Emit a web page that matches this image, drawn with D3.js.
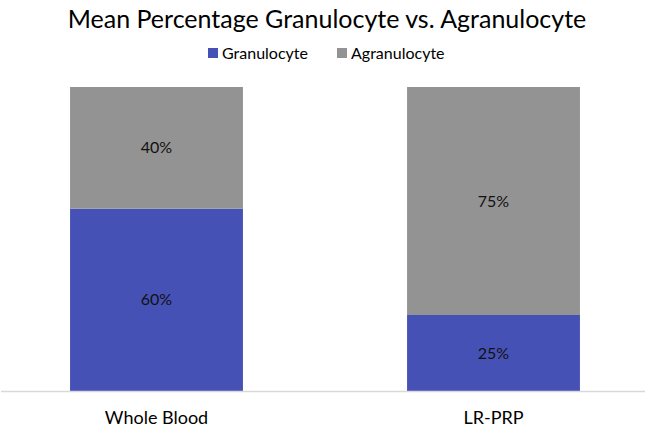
<!DOCTYPE html>
<html><head><meta charset="utf-8">
<script src="https://cdn.jsdelivr.net/npm/d3@7"></script>
<style>body{margin:0;background:#fff}svg{display:block}text{font-family:Lato,"Open Sans",sans-serif}</style>
</head><body>
<svg id="c" width="647" height="428"></svg>
<script>
const categories = ["Whole Blood", "LR-PRP"];
const seriesNames = ["Granulocyte", "Agranulocyte"];
const granulocyte = [60, 25];
const agranulocyte = [40, 75];
const colors = ["#4651B5", "#939393"];

const svg = d3.select("#c");
const x = d3.scaleBand().domain(categories).range([-12, 662]).paddingInner(0.487).paddingOuter(0.2435);
const y = d3.scaleLinear().domain([0, 100]).range([391, 87]);

const rows = categories.map((c, i) => ({cat: c, Granulocyte: granulocyte[i], Agranulocyte: agranulocyte[i]}));
const stacked = d3.stack().keys(seriesNames)(rows);

const g = svg.append("g");
stacked.forEach((s, si) => {
  g.selectAll(null).data(s).enter().append("rect")
    .attr("x", d => x(d.data.cat))
    .attr("width", x.bandwidth())
    .attr("y", d => y(d[1]))
    .attr("height", d => y(d[0]) - y(d[1]))
    .attr("fill", colors[si]);
  g.selectAll(null).data(s).enter().append("text")
    .attr("x", d => x(d.data.cat) + x.bandwidth() / 2)
    .attr("y", d => (y(d[0]) + y(d[1])) / 2)
    .attr("dy", "0.35em")
    .attr("text-anchor", "middle")
    .attr("font-size", 16)
    .attr("fill", "#111")
    .text(d => (d[1] - d[0]) + "%");
});

// axis
const xAxis = d3.axisBottom(x).tickSize(0).tickPadding(20);
const ax = svg.append("g").attr("transform", "translate(0,391)").call(xAxis);
ax.select(".domain").remove();
ax.selectAll("text").attr("font-size", 18).attr("fill", "#000").style("font-family", "Lato, sans-serif");
svg.append("line").attr("x1", 1).attr("x2", 645).attr("y1", 391.5).attr("y2", 391.5)
  .attr("stroke", "#d9d9d9").attr("stroke-width", 1.5);

// title
svg.append("text").attr("x", 327).attr("y", 28).attr("text-anchor", "middle")
  .attr("font-size", 25).attr("fill", "#000").text("Mean Percentage Granulocyte vs. Agranulocyte");

// legend
const legX = [208, 337];
const leg = svg.append("g");
seriesNames.forEach((n, i) => {
  leg.append("rect").attr("x", legX[i]).attr("y", 48).attr("width", 10).attr("height", 10).attr("fill", colors[i]);
  leg.append("text").attr("x", legX[i] + 14).attr("y", 53).attr("dy", "0.35em").attr("font-size", 16).attr("fill", "#000").text(n);
});
</script>
</body></html>
